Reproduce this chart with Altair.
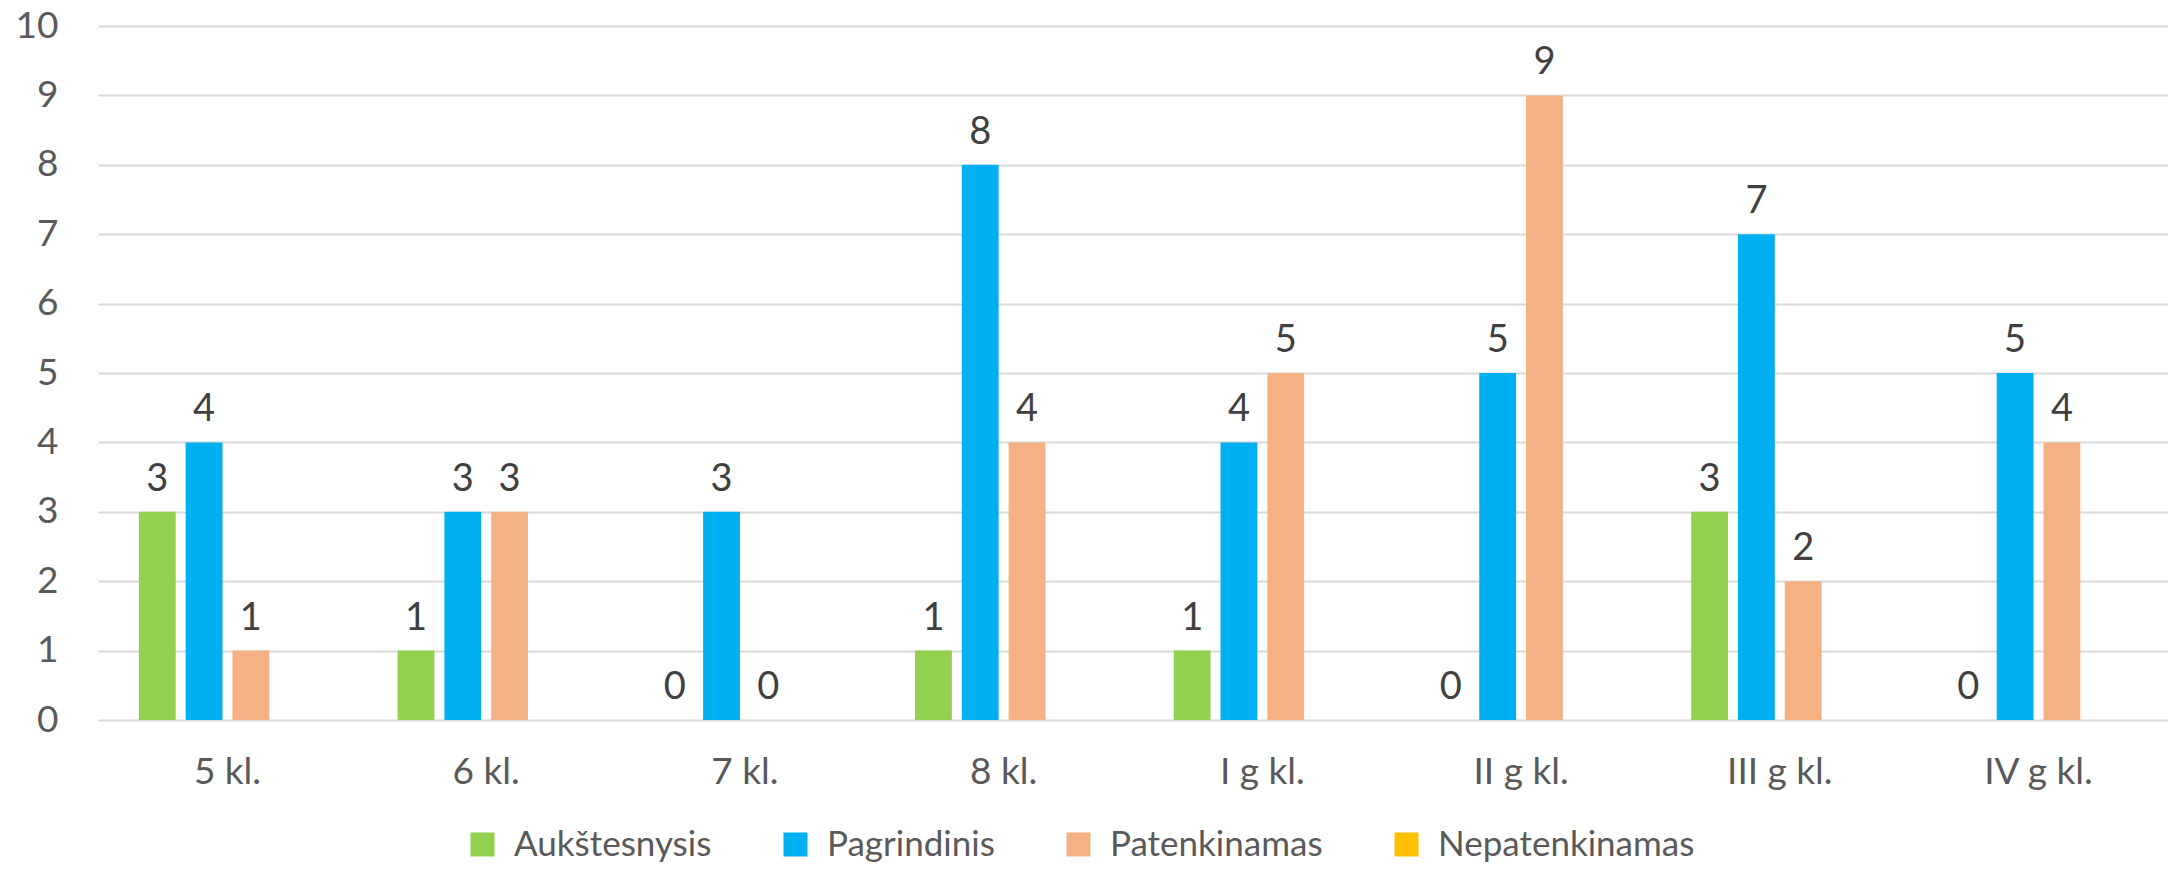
import altair as alt
import pandas as pd

categories = ["5 kl.", "6 kl.", "7 kl.", "8 kl.", "I g kl.", "II g kl.", "III g kl.", "IV g kl."]
series = ["Aukštesnysis", "Pagrindinis", "Patenkinamas", "Nepatenkinamas"]
aukstesnysis = [3, 1, 0, 1, 1, 0, 3, 0]
pagrindinis = [4, 3, 3, 8, 4, 5, 7, 5]
patenkinamas = [1, 3, 0, 4, 5, 9, 2, 4]
nepatenkinamas = [0, 0, 0, 0, 0, 0, 0, 0]
colors = ["#92D050", "#00B0F0", "#F4B183", "#FFC000"]
labelled = ["Aukštesnysis", "Pagrindinis", "Patenkinamas"]

rows = []
for s, vals in zip(series, [aukstesnysis, pagrindinis, patenkinamas, nepatenkinamas]):
    for c, v in zip(categories, vals):
        rows.append({"klase": c, "lygis": s, "value": v})
df = pd.DataFrame(rows)

FONT = "Lato"

x = alt.X("klase:N", sort=categories, title=None,
          scale=alt.Scale(paddingInner=0.315, paddingOuter=0.158),
          axis=alt.Axis(labelAngle=0, labelFontSize=37, labelColor="#595959", labelFont=FONT,
                        domain=False, ticks=False, labelPadding=34))
xo = alt.XOffset("lygis:N", sort=series, scale=alt.Scale(paddingInner=0.213, paddingOuter=0))
y = alt.Y("value:Q", title=None,
          scale=alt.Scale(domain=[0, 10], nice=False),
          axis=alt.Axis(values=list(range(11)), labelFontSize=37, labelColor="#595959", labelFont=FONT,
                        domain=False, ticks=False, labelPadding=40,
                        grid=True, gridColor="#D9D9D9", gridWidth=2))

bars = alt.Chart(df).mark_bar().encode(
    x=x, xOffset=xo, y=y,
    color=alt.Color("lygis:N", sort=series, scale=alt.Scale(domain=series, range=colors),
                    legend=alt.Legend(title=None, orient="none", direction="horizontal",
                                      legendX=367, legendY=801, padding=0,
                                      gridAlign="none",
                                      symbolType="square", symbolSize=576, symbolStrokeWidth=0,
                                      labelFontSize=35, labelColor="#595959", labelFont=FONT,
                                      labelOffset=14, columnPadding=66,
                                      labelLimit=500)),
)

text = alt.Chart(df).transform_filter(
    alt.FieldOneOfPredicate(field="lygis", oneOf=labelled)
).mark_text(fontSize=38, color="#404040", font=FONT, baseline="alphabetic", dy=-21).encode(
    x=x, xOffset=xo, y=y,
    text=alt.Text("value:Q"),
)

chart = alt.layer(bars, text).properties(
    width=2070, height=694,
    autosize=alt.AutoSizeParams(type="none"),
    padding={"left": 90, "top": 18, "right": 0, "bottom": 144},
).configure_view(stroke=None)

chart.save("out.html", embed_options={"renderer": "svg", "actions": False})
